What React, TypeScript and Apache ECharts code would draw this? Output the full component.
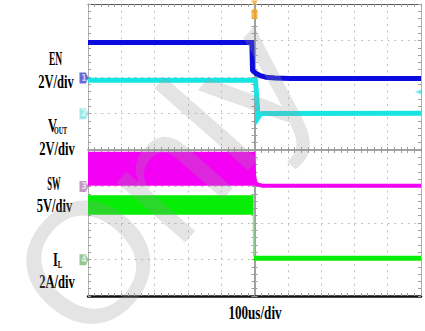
import React, { useEffect, useRef } from "react";
import * as echarts from "echarts";

// Horizontal scale: microseconds relative to the trigger, 100 µs per division
const TIME_MIN = -500;
const TIME_MAX = 500;
const TIME_STEP = 100;
const DIV_MIN = -4;
const DIV_MAX = 4;

// EN (V)
const enTime = [-500, -8, -6, -4, 5, 17, 35, 62, 107, 500];
const enVolts = [1.95, 1.95, 0.44, 0.38, 0.25, 0.14, 0.05, 0.01, -0.02, -0.02];

// VOUT (V)
const voutTime = [-500, 3, 8, 11, 16, 23, 500];
const voutVolts = [1.84, 1.84, 0.6, -0.19, -0.05, 0.02, 0.03];

// SW: upper envelope of the switching node (V), band bottom at swLow
const swTime = [-500, -4, -1, 2, 10, 25, 500];
const swVolts = [4.5, 4.5, 1.5, 0.6, 0.25, 0.1, 0.1];
const swLow = 0.1;

// IL: ripple band before shutdown (A), then the falling edge and the residual level
const ilBandTime = [-500, -3];
const ilBandHigh = [3.51, 3.51];
const ilBandLow = 2.47;
const ilEdgeTime = [-3, -2];
const ilEdgeAmps = [2.47, 0.2];
const ilTime = [-2, 500];
const ilAmps = [0.09, 0.09];

// Channel settings: units per division and ground-marker position (divisions from centre)
const CH_EN = { scale: 2, offset: 1.97, color: "#0b0be0", tag: "#4444cc", id: "1" };
const CH_VOUT = { scale: 2, offset: 0.99, color: "#18e4e4", tag: "#86e2e2", id: "2" };
const CH_SW = { scale: 5, offset: -1.0, color: "#f400f4", tag: "#b47cb4", id: "3" };
const CH_IL = { scale: 2, offset: -3.01, color: "#06ee06", tag: "#7cb87c", id: "4" };

// Level marker on the right edge (divisions)
const levelMark = 1.59;

type Ch = typeof CH_EN;
const toDiv = (v: number, ch: Ch) => ch.offset + v / ch.scale;
const pts = (ts: number[], vs: number[], ch: Ch) => ts.map((t, i) => [t, toDiv(vs[i], ch)]);

const GRID = { left: 88, top: 4, width: 333, height: 292 };
const GRAY = "#9c9c9c";
const labelFont = '"Liberation Serif", "Times New Roman", serif';

// Side labels: text, centre x/y, font size, horizontal squeeze
const sideLabels: [string, number, number, number, number][] = [
  ["EN", 55.5, 59, 19, 0.5],
  ["2V/div", 56, 82, 19, 0.66],
  ["V", 52.5, 126, 19, 0.66],
  ["OUT", 60.5, 130, 11, 0.55],
  ["2V/div", 57, 149, 19, 0.66],
  ["SW", 54, 184, 19, 0.45],
  ["5V/div", 54.5, 205.5, 19, 0.66],
  ["I", 55.5, 260, 19, 0.66],
  ["L", 60, 264, 11, 0.62],
  ["2A/div", 57, 282, 19, 0.66],
  ["100us/div", 255, 313, 19, 0.69],
];

const tagPath = "path://M0,0 L7,0 L10,5 L7,10 L0,10 Z";

function buildOption(): echarts.EChartsOption {
  const minorTick = { show: true, splitNumber: 5, length: 3, lineStyle: { color: GRAY } };
  const tick = { show: true, inside: true, length: 3, lineStyle: { color: GRAY } };
  const dash = { show: true, lineStyle: { color: "#c2c2c2", width: 1, type: [2, 4.66] as any } };
  const xBase = { type: "value" as const, min: TIME_MIN, max: TIME_MAX, interval: TIME_STEP, axisLabel: { show: false } };
  const yBase = { type: "value" as const, min: DIV_MIN, max: DIV_MAX, interval: 1, axisLabel: { show: false } };

  const grids = [0, 1, 2].map(() => ({ ...GRID, containLabel: false }));

  const xAxis: any[] = [
    { ...xBase, gridIndex: 0, position: "bottom", axisLine: { onZero: false, lineStyle: { color: "#111", width: 2.5 } }, axisTick: tick, minorTick: { ...minorTick }, splitLine: dash },
    { ...xBase, gridIndex: 0, position: "top", axisLine: { onZero: false, lineStyle: { color: "#555", width: 1 } }, axisTick: tick, minorTick: { ...minorTick }, splitLine: { show: false } },
    { ...xBase, gridIndex: 1, axisLine: { onZero: true, lineStyle: { color: GRAY, width: 1.5 } }, axisTick: { ...tick, inside: true }, minorTick: { ...minorTick }, splitLine: { show: false } },
    { ...xBase, gridIndex: 2, axisLine: { onZero: true, lineStyle: { color: GRAY, width: 1.5 } }, axisTick: { ...tick, inside: false }, minorTick: { ...minorTick }, splitLine: { show: false } },
  ];
  const yAxis: any[] = [
    { ...yBase, gridIndex: 0, position: "left", axisLine: { show: true, onZero: false, lineStyle: { color: "#b0b0b0", width: 1 } }, axisTick: tick, minorTick: { ...minorTick }, splitLine: dash },
    { ...yBase, gridIndex: 0, position: "right", axisLine: { show: true, onZero: false, lineStyle: { color: "#b0b0b0", width: 1 } }, axisTick: tick, minorTick: { ...minorTick }, splitLine: { show: false } },
    { ...yBase, gridIndex: 1, axisLine: { show: true, onZero: true, lineStyle: { color: GRAY, width: 1.5 } }, axisTick: { ...tick, inside: true }, minorTick: { ...minorTick }, splitLine: { show: false } },
    { ...yBase, gridIndex: 2, axisLine: { show: true, onZero: true, lineStyle: { color: GRAY, width: 1.5 } }, axisTick: { ...tick, inside: false }, minorTick: { ...minorTick }, splitLine: { show: false } },
  ];

  const trace = (name: string, data: number[][], color: string, width: number, z = 3) => ({
    name,
    type: "line" as const,
    xAxisIndex: 0,
    yAxisIndex: 0,
    data,
    symbol: "none",
    z,
    lineStyle: { color, width, cap: "butt" as const, join: "miter" as const },
  });

  const series: any[] = [
    {
      ...trace("SW", pts(swTime, swVolts, CH_SW), CH_SW.color, 4),
      areaStyle: { color: CH_SW.color, opacity: 1, origin: toDiv(swLow, CH_SW) },
    },
    {
      ...trace("IL band", pts(ilBandTime, ilBandHigh, CH_IL), CH_IL.color, 1),
      areaStyle: { color: CH_IL.color, opacity: 1, origin: toDiv(ilBandLow, CH_IL) },
    },
    trace("IL edge", pts(ilEdgeTime, ilEdgeAmps, CH_IL), "#7cf07c", 1.5),
    trace("IL", pts(ilTime, ilAmps, CH_IL), CH_IL.color, 5),
    trace("VOUT", pts(voutTime, voutVolts, CH_VOUT), CH_VOUT.color, 5),
    trace("EN", pts(enTime, enVolts, CH_EN), CH_EN.color, 5, 4),
    {
      name: "ground markers",
      type: "scatter",
      xAxisIndex: 0,
      yAxisIndex: 0,
      clip: false,
      z: 6,
      symbol: tagPath,
      symbolSize: [9, 11],
      symbolOffset: [-4, 0],
      label: {
        show: true,
        position: "inside",
        formatter: (p: any) => p.data.value[2],
        fontSize: 8,
        fontWeight: "bold",
        color: "rgba(255,255,255,0.85)",
        fontFamily: "DejaVu Sans",
      },
      data: [CH_EN, CH_VOUT, CH_SW, CH_IL].map((ch) => ({
        value: [TIME_MIN, ch.offset, ch.id],
        itemStyle: { color: ch.tag },
      })),
    },
    {
      name: "trigger",
      type: "scatter",
      xAxisIndex: 0,
      yAxisIndex: 0,
      clip: false,
      z: 6,
      data: [
        { value: [0, DIV_MAX], symbol: "triangle", symbolRotate: 180, symbolSize: [7, 5], symbolOffset: [0, -1] },
        { value: [0, DIV_MAX], symbol: "roundRect", symbolSize: [6, 10], symbolOffset: [0, 10] },
      ],
      itemStyle: { color: "#f5a623" },
    },
    {
      name: "level",
      type: "scatter",
      xAxisIndex: 0,
      yAxisIndex: 0,
      clip: false,
      z: 6,
      data: [[TIME_MAX, levelMark]],
      symbol: "triangle",
      symbolRotate: 90,
      symbolSize: [5, 6],
      symbolOffset: [-3, 0],
      itemStyle: { color: "#5fe6e6" },
    },
  ];

  const graphic: any[] = sideLabels.map(([text, x, y, size, sx]) => ({
    type: "text",
    x,
    y,
    scaleX: sx,
    z: 50,
    style: {
      text,
      fill: "#000",
      font: `bold ${size}px ${labelFont}`,
      align: "center",
      verticalAlign: "middle",
    },
  }));

  // translucent watermark over the plot
  graphic.push({
    type: "text",
    x: 44,
    y: 312,
    rotation: 0.85,
    z: 100,
    silent: true,
    style: {
      text: "Only",
      fill: "rgba(150,150,150,0.26)",
      font: '172px "Liberation Sans", Arial, sans-serif',
      align: "left",
      verticalAlign: "middle",
    },
  });

  return {
    animation: false,
    backgroundColor: "#ffffff",
    grid: grids,
    xAxis,
    yAxis,
    series,
    graphic,
  };
}

export default function App() {
  const ref = useRef<HTMLDivElement>(null);
  useEffect(() => {
    if (!ref.current) return;
    const chart = echarts.init(ref.current, null, { renderer: "svg" });
    chart.setOption(buildOption());
    return () => chart.dispose();
  }, []);
  return <div ref={ref} style={{ position: "fixed", left: 0, top: 0, width: 425, height: 331 }} />;
}
